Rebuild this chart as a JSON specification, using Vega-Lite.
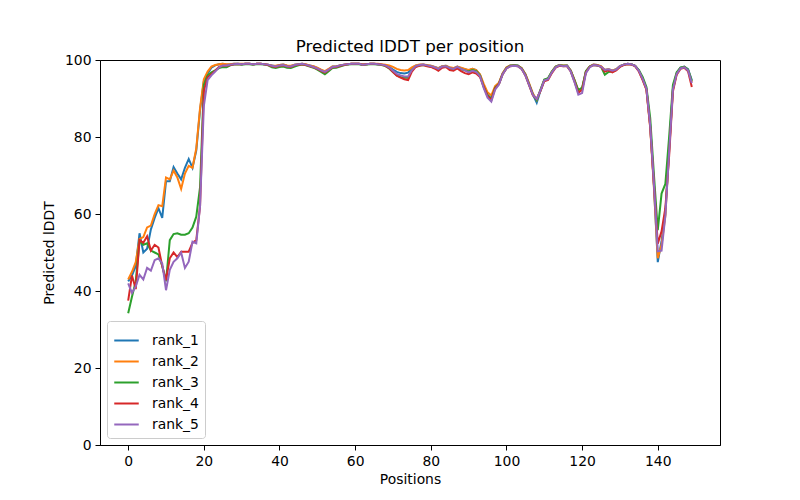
{
  "$schema": "https://vega.github.io/schema/vega-lite/v6.json",
  "width": 620,
  "height": 385,
  "autosize": {"type": "none"},
  "padding": {"left": 100, "top": 60, "right": 80, "bottom": 55},
  "title": {"text": "Predicted lDDT per position", "fontSize": 16.7, "font": "DejaVu Sans", "fontWeight": "normal", "color": "#000000", "offset": -3, "anchor": "middle", "frame": "group"},
  "config": {
    "view": {"stroke": "#000000", "strokeWidth": 1},
    "font": "DejaVu Sans",
    "axis": {"grid": false, "domainColor": "#000000", "tickColor": "#000000", "tickSize": 5, "labelPadding": 4, "labelFontSize": 13.9, "labelColor": "#000000", "titleFontSize": 13.9, "titleFontWeight": "normal", "titleColor": "#000000", "labelFont": "DejaVu Sans", "titleFont": "DejaVu Sans"}
  },
  "data": {"values": [
    {"p":0,"rank_1":42.5,"rank_2":43.0,"rank_3":34.2,"rank_4":37.5,"rank_5":42.0},
    {"p":1,"rank_1":44.0,"rank_2":45.0,"rank_3":38.5,"rank_4":44.0,"rank_5":39.5},
    {"p":2,"rank_1":46.5,"rank_2":47.5,"rank_3":42.5,"rank_4":40.5,"rank_5":41.2},
    {"p":3,"rank_1":55.0,"rank_2":53.5,"rank_3":53.0,"rank_4":53.2,"rank_5":44.2},
    {"p":4,"rank_1":50.0,"rank_2":54.0,"rank_3":52.0,"rank_4":52.5,"rank_5":43.0},
    {"p":5,"rank_1":51.0,"rank_2":56.5,"rank_3":52.4,"rank_4":54.2,"rank_5":46.0},
    {"p":6,"rank_1":56.0,"rank_2":57.0,"rank_3":50.5,"rank_4":50.5,"rank_5":45.3},
    {"p":7,"rank_1":59.0,"rank_2":60.0,"rank_3":50.0,"rank_4":52.0,"rank_5":48.0},
    {"p":8,"rank_1":61.5,"rank_2":62.3,"rank_3":49.5,"rank_4":51.3,"rank_5":48.5},
    {"p":9,"rank_1":59.0,"rank_2":62.0,"rank_3":46.5,"rank_4":46.5,"rank_5":47.2},
    {"p":10,"rank_1":68.5,"rank_2":69.5,"rank_3":42.5,"rank_4":42.8,"rank_5":40.2},
    {"p":11,"rank_1":68.5,"rank_2":69.0,"rank_3":53.2,"rank_4":48.5,"rank_5":45.5},
    {"p":12,"rank_1":72.2,"rank_2":71.3,"rank_3":54.8,"rank_4":50.0,"rank_5":47.6},
    {"p":13,"rank_1":70.5,"rank_2":69.5,"rank_3":55.0,"rank_4":48.8,"rank_5":48.5},
    {"p":14,"rank_1":69.0,"rank_2":66.5,"rank_3":54.6,"rank_4":50.2,"rank_5":50.0},
    {"p":15,"rank_1":72.0,"rank_2":70.5,"rank_3":54.6,"rank_4":50.2,"rank_5":46.0},
    {"p":16,"rank_1":74.3,"rank_2":72.5,"rank_3":55.0,"rank_4":50.2,"rank_5":47.6},
    {"p":17,"rank_1":72.0,"rank_2":72.0,"rank_3":56.5,"rank_4":52.5,"rank_5":52.8},
    {"p":18,"rank_1":76.5,"rank_2":77.0,"rank_3":59.3,"rank_4":53.2,"rank_5":52.4},
    {"p":19,"rank_1":87.0,"rank_2":87.5,"rank_3":67.0,"rank_4":62.0,"rank_5":62.0},
    {"p":20,"rank_1":94.5,"rank_2":95.0,"rank_3":93.5,"rank_4":92.0,"rank_5":88.0},
    {"p":21,"rank_1":96.5,"rank_2":97.0,"rank_3":96.0,"rank_4":95.5,"rank_5":94.8},
    {"p":22,"rank_1":98.0,"rank_2":98.3,"rank_3":96.8,"rank_4":96.3,"rank_5":96.0},
    {"p":23,"rank_1":98.6,"rank_2":98.7,"rank_3":97.3,"rank_4":97.2,"rank_5":97.0},
    {"p":24,"rank_1":98.9,"rank_2":98.9,"rank_3":97.9,"rank_4":98.2,"rank_5":98.1},
    {"p":25,"rank_1":99.0,"rank_2":99.0,"rank_3":98.2,"rank_4":98.5,"rank_5":98.6},
    {"p":26,"rank_1":98.8,"rank_2":98.9,"rank_3":98.1,"rank_4":98.5,"rank_5":98.6},
    {"p":27,"rank_1":98.9,"rank_2":98.9,"rank_3":98.6,"rank_4":98.7,"rank_5":98.8},
    {"p":28,"rank_1":99.0,"rank_2":99.0,"rank_3":98.8,"rank_4":98.9,"rank_5":98.9},
    {"p":29,"rank_1":99.0,"rank_2":99.0,"rank_3":98.9,"rank_4":98.9,"rank_5":99.0},
    {"p":30,"rank_1":98.9,"rank_2":99.0,"rank_3":98.8,"rank_4":98.9,"rank_5":98.9},
    {"p":31,"rank_1":99.0,"rank_2":99.0,"rank_3":98.9,"rank_4":99.0,"rank_5":99.0},
    {"p":32,"rank_1":99.0,"rank_2":99.0,"rank_3":98.9,"rank_4":99.0,"rank_5":99.0},
    {"p":33,"rank_1":98.9,"rank_2":98.9,"rank_3":98.8,"rank_4":98.9,"rank_5":98.9},
    {"p":34,"rank_1":99.0,"rank_2":99.0,"rank_3":98.9,"rank_4":99.0,"rank_5":99.0},
    {"p":35,"rank_1":99.0,"rank_2":99.0,"rank_3":98.9,"rank_4":99.0,"rank_5":99.0},
    {"p":36,"rank_1":98.9,"rank_2":98.9,"rank_3":98.8,"rank_4":98.9,"rank_5":98.9},
    {"p":37,"rank_1":98.8,"rank_2":98.8,"rank_3":98.6,"rank_4":98.7,"rank_5":98.8},
    {"p":38,"rank_1":98.6,"rank_2":98.6,"rank_3":98.1,"rank_4":98.4,"rank_5":98.5},
    {"p":39,"rank_1":98.4,"rank_2":98.5,"rank_3":97.9,"rank_4":98.2,"rank_5":98.3},
    {"p":40,"rank_1":98.7,"rank_2":98.7,"rank_3":98.2,"rank_4":98.5,"rank_5":98.6},
    {"p":41,"rank_1":98.8,"rank_2":98.8,"rank_3":98.3,"rank_4":98.6,"rank_5":98.7},
    {"p":42,"rank_1":98.5,"rank_2":98.6,"rank_3":98.0,"rank_4":98.3,"rank_5":98.4},
    {"p":43,"rank_1":98.4,"rank_2":98.5,"rank_3":97.9,"rank_4":98.2,"rank_5":98.3},
    {"p":44,"rank_1":98.8,"rank_2":98.8,"rank_3":98.3,"rank_4":98.6,"rank_5":98.7},
    {"p":45,"rank_1":98.9,"rank_2":98.9,"rank_3":98.6,"rank_4":98.8,"rank_5":98.9},
    {"p":46,"rank_1":99.0,"rank_2":99.0,"rank_3":98.8,"rank_4":98.9,"rank_5":99.0},
    {"p":47,"rank_1":98.8,"rank_2":98.9,"rank_3":98.6,"rank_4":98.7,"rank_5":98.8},
    {"p":48,"rank_1":98.6,"rank_2":98.6,"rank_3":98.3,"rank_4":98.4,"rank_5":98.5},
    {"p":49,"rank_1":98.3,"rank_2":98.4,"rank_3":98.0,"rank_4":98.1,"rank_5":98.2},
    {"p":50,"rank_1":97.9,"rank_2":98.0,"rank_3":97.5,"rank_4":97.7,"rank_5":97.8},
    {"p":51,"rank_1":97.4,"rank_2":97.5,"rank_3":96.9,"rank_4":97.2,"rank_5":97.3},
    {"p":52,"rank_1":96.9,"rank_2":97.1,"rank_3":96.3,"rank_4":96.7,"rank_5":96.9},
    {"p":53,"rank_1":97.6,"rank_2":97.7,"rank_3":97.1,"rank_4":97.4,"rank_5":97.5},
    {"p":54,"rank_1":98.3,"rank_2":98.3,"rank_3":97.9,"rank_4":98.1,"rank_5":98.2},
    {"p":55,"rank_1":98.3,"rank_2":98.4,"rank_3":98.0,"rank_4":98.2,"rank_5":98.3},
    {"p":56,"rank_1":98.6,"rank_2":98.6,"rank_3":98.3,"rank_4":98.5,"rank_5":98.6},
    {"p":57,"rank_1":98.8,"rank_2":98.8,"rank_3":98.6,"rank_4":98.7,"rank_5":98.8},
    {"p":58,"rank_1":98.9,"rank_2":98.9,"rank_3":98.8,"rank_4":98.9,"rank_5":98.9},
    {"p":59,"rank_1":99.0,"rank_2":99.0,"rank_3":98.9,"rank_4":99.0,"rank_5":99.0},
    {"p":60,"rank_1":99.0,"rank_2":99.0,"rank_3":98.9,"rank_4":99.0,"rank_5":99.0},
    {"p":61,"rank_1":99.0,"rank_2":99.0,"rank_3":98.9,"rank_4":99.0,"rank_5":99.0},
    {"p":62,"rank_1":98.8,"rank_2":98.9,"rank_3":98.7,"rank_4":98.8,"rank_5":98.8},
    {"p":63,"rank_1":98.9,"rank_2":98.9,"rank_3":98.8,"rank_4":98.9,"rank_5":98.9},
    {"p":64,"rank_1":99.0,"rank_2":99.0,"rank_3":98.9,"rank_4":99.0,"rank_5":99.0},
    {"p":65,"rank_1":99.0,"rank_2":99.0,"rank_3":98.9,"rank_4":99.0,"rank_5":99.0},
    {"p":66,"rank_1":98.9,"rank_2":99.0,"rank_3":98.8,"rank_4":98.9,"rank_5":98.9},
    {"p":67,"rank_1":98.8,"rank_2":98.9,"rank_3":98.7,"rank_4":98.8,"rank_5":98.8},
    {"p":68,"rank_1":98.6,"rank_2":98.8,"rank_3":98.4,"rank_4":98.5,"rank_5":98.6},
    {"p":69,"rank_1":98.2,"rank_2":98.6,"rank_3":97.8,"rank_4":97.9,"rank_5":98.1},
    {"p":70,"rank_1":97.5,"rank_2":98.2,"rank_3":96.9,"rank_4":96.9,"rank_5":97.2},
    {"p":71,"rank_1":96.9,"rank_2":97.7,"rank_3":96.0,"rank_4":95.9,"rank_5":96.4},
    {"p":72,"rank_1":96.6,"rank_2":97.4,"rank_3":95.6,"rank_4":95.4,"rank_5":96.0},
    {"p":73,"rank_1":96.5,"rank_2":97.3,"rank_3":95.4,"rank_4":95.0,"rank_5":95.7},
    {"p":74,"rank_1":96.7,"rank_2":97.4,"rank_3":95.4,"rank_4":94.8,"rank_5":95.7},
    {"p":75,"rank_1":97.9,"rank_2":98.1,"rank_3":97.4,"rank_4":97.0,"rank_5":97.4},
    {"p":76,"rank_1":98.5,"rank_2":98.6,"rank_3":98.3,"rank_4":98.2,"rank_5":98.4},
    {"p":77,"rank_1":98.7,"rank_2":98.8,"rank_3":98.6,"rank_4":98.5,"rank_5":98.7},
    {"p":78,"rank_1":98.8,"rank_2":98.8,"rank_3":98.7,"rank_4":98.7,"rank_5":98.8},
    {"p":79,"rank_1":98.6,"rank_2":98.7,"rank_3":98.5,"rank_4":98.4,"rank_5":98.6},
    {"p":80,"rank_1":98.5,"rank_2":98.5,"rank_3":98.3,"rank_4":98.2,"rank_5":98.4},
    {"p":81,"rank_1":98.2,"rank_2":98.2,"rank_3":97.9,"rank_4":97.8,"rank_5":98.1},
    {"p":82,"rank_1":97.9,"rank_2":97.9,"rank_3":97.6,"rank_4":97.2,"rank_5":97.7},
    {"p":83,"rank_1":98.4,"rank_2":98.4,"rank_3":98.2,"rank_4":98.0,"rank_5":98.3},
    {"p":84,"rank_1":98.5,"rank_2":98.5,"rank_3":98.3,"rank_4":98.2,"rank_5":98.4},
    {"p":85,"rank_1":98.0,"rank_2":98.1,"rank_3":97.8,"rank_4":97.4,"rank_5":97.9},
    {"p":86,"rank_1":97.8,"rank_2":97.9,"rank_3":97.6,"rank_4":97.2,"rank_5":97.7},
    {"p":87,"rank_1":98.3,"rank_2":98.3,"rank_3":98.1,"rank_4":97.8,"rank_5":98.2},
    {"p":88,"rank_1":97.9,"rank_2":98.0,"rank_3":97.6,"rank_4":97.1,"rank_5":97.7},
    {"p":89,"rank_1":97.6,"rank_2":97.7,"rank_3":97.3,"rank_4":96.6,"rank_5":97.3},
    {"p":90,"rank_1":97.3,"rank_2":97.4,"rank_3":97.0,"rank_4":96.3,"rank_5":96.8},
    {"p":91,"rank_1":97.7,"rank_2":97.7,"rank_3":97.4,"rank_4":96.8,"rank_5":97.2},
    {"p":92,"rank_1":97.4,"rank_2":97.4,"rank_3":97.1,"rank_4":96.5,"rank_5":96.9},
    {"p":93,"rank_1":96.2,"rank_2":96.3,"rank_3":96.0,"rank_4":95.6,"rank_5":95.8},
    {"p":94,"rank_1":93.3,"rank_2":93.8,"rank_3":93.0,"rank_4":93.0,"rank_5":92.7},
    {"p":95,"rank_1":91.0,"rank_2":91.6,"rank_3":90.8,"rank_4":90.6,"rank_5":90.2},
    {"p":96,"rank_1":90.0,"rank_2":90.8,"rank_3":89.8,"rank_4":89.6,"rank_5":89.2},
    {"p":97,"rank_1":92.8,"rank_2":93.2,"rank_3":92.8,"rank_4":92.6,"rank_5":92.3},
    {"p":98,"rank_1":93.9,"rank_2":94.1,"rank_3":93.8,"rank_4":93.7,"rank_5":93.6},
    {"p":99,"rank_1":96.5,"rank_2":96.6,"rank_3":96.4,"rank_4":96.3,"rank_5":96.3},
    {"p":100,"rank_1":98.0,"rank_2":98.1,"rank_3":97.9,"rank_4":97.8,"rank_5":97.8},
    {"p":101,"rank_1":98.6,"rank_2":98.6,"rank_3":98.5,"rank_4":98.4,"rank_5":98.4},
    {"p":102,"rank_1":98.7,"rank_2":98.6,"rank_3":98.6,"rank_4":98.5,"rank_5":98.5},
    {"p":103,"rank_1":98.6,"rank_2":98.5,"rank_3":98.5,"rank_4":98.4,"rank_5":98.4},
    {"p":104,"rank_1":97.9,"rank_2":97.9,"rank_3":97.8,"rank_4":97.7,"rank_5":97.7},
    {"p":105,"rank_1":96.3,"rank_2":96.4,"rank_3":96.2,"rank_4":96.0,"rank_5":96.0},
    {"p":106,"rank_1":93.7,"rank_2":93.9,"rank_3":93.6,"rank_4":93.4,"rank_5":93.5},
    {"p":107,"rank_1":91.0,"rank_2":91.3,"rank_3":91.0,"rank_4":90.8,"rank_5":90.9},
    {"p":108,"rank_1":88.9,"rank_2":89.6,"rank_3":89.6,"rank_4":89.9,"rank_5":89.9},
    {"p":109,"rank_1":92.0,"rank_2":92.2,"rank_3":92.3,"rank_4":92.0,"rank_5":92.1},
    {"p":110,"rank_1":94.8,"rank_2":94.8,"rank_3":94.9,"rank_4":94.5,"rank_5":94.7},
    {"p":111,"rank_1":95.1,"rank_2":95.1,"rank_3":95.3,"rank_4":94.8,"rank_5":95.0},
    {"p":112,"rank_1":96.9,"rank_2":97.0,"rank_3":97.0,"rank_4":96.6,"rank_5":96.8},
    {"p":113,"rank_1":98.3,"rank_2":98.3,"rank_3":98.2,"rank_4":98.0,"rank_5":98.1},
    {"p":114,"rank_1":98.7,"rank_2":98.7,"rank_3":98.6,"rank_4":98.5,"rank_5":98.6},
    {"p":115,"rank_1":98.5,"rank_2":98.6,"rank_3":98.5,"rank_4":98.4,"rank_5":98.4},
    {"p":116,"rank_1":98.6,"rank_2":98.6,"rank_3":98.5,"rank_4":98.4,"rank_5":98.5},
    {"p":117,"rank_1":97.2,"rank_2":97.3,"rank_3":97.2,"rank_4":97.0,"rank_5":97.0},
    {"p":118,"rank_1":94.6,"rank_2":94.8,"rank_3":94.8,"rank_4":94.4,"rank_5":94.2},
    {"p":119,"rank_1":91.6,"rank_2":91.9,"rank_3":92.2,"rank_4":91.5,"rank_5":91.0},
    {"p":120,"rank_1":92.4,"rank_2":92.5,"rank_3":92.8,"rank_4":92.2,"rank_5":91.4},
    {"p":121,"rank_1":97.0,"rank_2":97.0,"rank_3":97.1,"rank_4":96.8,"rank_5":96.6},
    {"p":122,"rank_1":98.3,"rank_2":98.3,"rank_3":98.3,"rank_4":98.2,"rank_5":98.1},
    {"p":123,"rank_1":98.8,"rank_2":98.8,"rank_3":98.7,"rank_4":98.7,"rank_5":98.7},
    {"p":124,"rank_1":98.7,"rank_2":98.7,"rank_3":98.6,"rank_4":98.6,"rank_5":98.6},
    {"p":125,"rank_1":98.3,"rank_2":98.4,"rank_3":98.2,"rank_4":98.2,"rank_5":98.3},
    {"p":126,"rank_1":97.4,"rank_2":97.4,"rank_3":96.2,"rank_4":97.0,"rank_5":97.4},
    {"p":127,"rank_1":97.6,"rank_2":97.6,"rank_3":96.9,"rank_4":97.3,"rank_5":97.6},
    {"p":128,"rank_1":97.2,"rank_2":97.3,"rank_3":97.0,"rank_4":96.8,"rank_5":97.2},
    {"p":129,"rank_1":97.6,"rank_2":97.6,"rank_3":97.4,"rank_4":97.3,"rank_5":97.5},
    {"p":130,"rank_1":98.4,"rank_2":98.4,"rank_3":98.3,"rank_4":98.2,"rank_5":98.4},
    {"p":131,"rank_1":98.8,"rank_2":98.8,"rank_3":98.8,"rank_4":98.7,"rank_5":98.8},
    {"p":132,"rank_1":99.0,"rank_2":99.0,"rank_3":98.9,"rank_4":98.9,"rank_5":99.0},
    {"p":133,"rank_1":98.9,"rank_2":98.9,"rank_3":98.9,"rank_4":98.8,"rank_5":98.9},
    {"p":134,"rank_1":98.5,"rank_2":98.5,"rank_3":98.5,"rank_4":98.4,"rank_5":98.5},
    {"p":135,"rank_1":97.3,"rank_2":97.2,"rank_3":97.4,"rank_4":97.0,"rank_5":97.2},
    {"p":136,"rank_1":95.2,"rank_2":95.0,"rank_3":95.6,"rank_4":94.8,"rank_5":95.1},
    {"p":137,"rank_1":92.6,"rank_2":92.3,"rank_3":93.0,"rank_4":92.3,"rank_5":92.5},
    {"p":138,"rank_1":83.0,"rank_2":82.5,"rank_3":85.0,"rank_4":82.5,"rank_5":83.0},
    {"p":139,"rank_1":67.0,"rank_2":66.5,"rank_3":70.0,"rank_4":67.5,"rank_5":67.5},
    {"p":140,"rank_1":47.5,"rank_2":48.5,"rank_3":55.8,"rank_4":52.3,"rank_5":50.3},
    {"p":141,"rank_1":53.0,"rank_2":52.0,"rank_3":65.3,"rank_4":55.5,"rank_5":50.5},
    {"p":142,"rank_1":60.0,"rank_2":59.5,"rank_3":67.8,"rank_4":61.5,"rank_5":59.5},
    {"p":143,"rank_1":77.0,"rank_2":76.5,"rank_3":80.0,"rank_4":75.0,"rank_5":76.0},
    {"p":144,"rank_1":92.5,"rank_2":92.3,"rank_3":93.5,"rank_4":91.8,"rank_5":92.3},
    {"p":145,"rank_1":96.6,"rank_2":96.5,"rank_3":96.8,"rank_4":96.2,"rank_5":96.4},
    {"p":146,"rank_1":98.0,"rank_2":97.9,"rank_3":98.0,"rank_4":97.7,"rank_5":97.8},
    {"p":147,"rank_1":98.3,"rank_2":98.2,"rank_3":98.2,"rank_4":98.0,"rank_5":98.1},
    {"p":148,"rank_1":97.6,"rank_2":97.4,"rank_3":97.5,"rank_4":97.1,"rank_5":97.3},
    {"p":149,"rank_1":94.8,"rank_2":94.3,"rank_3":94.5,"rank_4":93.0,"rank_5":94.0}
  ]},
  "transform": [{"fold": ["rank_1", "rank_2", "rank_3", "rank_4", "rank_5"], "as": ["rank", "value"]}],
  "mark": {"type": "line", "strokeWidth": 2, "clip": true},
  "encoding": {
    "x": {"field": "p", "type": "quantitative", "title": "Positions",
      "scale": {"domain": [-7.45, 156.45], "nice": false, "zero": false},
      "axis": {"values": [0, 20, 40, 60, 80, 100, 120, 140], "titlePadding": 5}},
    "y": {"field": "value", "type": "quantitative", "title": "Predicted lDDT",
      "scale": {"domain": [0, 100], "nice": false},
      "axis": {"values": [0, 20, 40, 60, 80, 100], "titlePadding": 8}},
    "color": {"field": "rank", "type": "nominal",
      "scale": {"domain": ["rank_1", "rank_2", "rank_3", "rank_4", "rank_5"], "range": ["#1f77b4", "#ff7f0e", "#2ca02c", "#d62728", "#9467bd"]},
      "legend": {"title": null, "orient": "bottom-left", "offset": 7, "symbolType": "stroke", "symbolSize": 600, "symbolStrokeWidth": 2, "labelFontSize": 13.9, "labelColor": "#000000", "labelFont": "DejaVu Sans", "labelOffset": 12, "rowPadding": 0, "padding": 6, "fillColor": "rgba(255,255,255,0.8)", "strokeColor": "#cccccc", "cornerRadius": 3}}
  }
}
